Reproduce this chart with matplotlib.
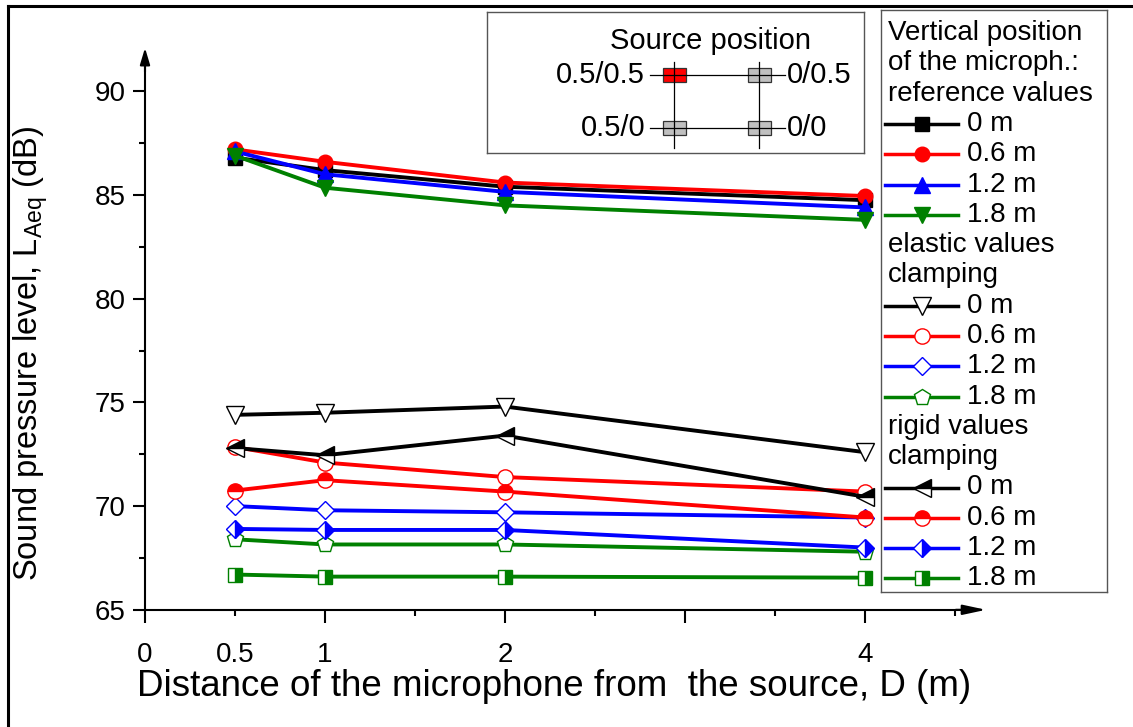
import matplotlib
matplotlib.use("Agg")
import matplotlib.pyplot as plt
from matplotlib.lines import Line2D
from matplotlib.patches import Rectangle

plt.rcParams['font.family'] = ['Liberation Sans', 'DejaVu Sans']

# distances of the microphone (m)
dist = [0.5, 1, 2, 4]

# reference values
ref_0 = [86.8, 86.2, 85.4, 84.75]
ref_06 = [87.2, 86.6, 85.6, 84.95]
ref_12 = [87.1, 86.0, 85.15, 84.4]
ref_18 = [86.9, 85.35, 84.5, 83.8]
# elastic clamping
ela_0 = [74.4, 74.5, 74.8, 72.6]
ela_06 = [72.85, 72.1, 71.4, 70.7]
ela_12 = [70.0, 69.8, 69.7, 69.45]
ela_18 = [68.4, 68.15, 68.15, 67.8]
# rigid clamping
rig_0 = [72.8, 72.45, 73.4, 70.45]
rig_06 = [70.75, 71.25, 70.7, 69.45]
rig_12 = [68.9, 68.85, 68.85, 68.0]
rig_18 = [66.7, 66.6, 66.6, 66.55]

heights = ["0 m", "0.6 m", "1.2 m", "1.8 m"]
colors = ["black", "red", "blue", "green"]

W, H = 1133, 727
fig = plt.figure(figsize=(W / 100, H / 100), dpi=100)

# styles for each group
ref_style = [dict(marker='s', ms=9.5), dict(marker='o', ms=10.5),
             dict(marker='^', ms=11.5), dict(marker='v', ms=11.5)]
ela_style = [dict(marker='v', ms=13, mfc='white'), dict(marker='o', ms=11, mfc='white'),
             dict(marker='D', ms=9, mfc='white'), dict(marker='p', ms=12, mfc='white')]
rig_style = [dict(marker='<', ms=13, fillstyle='top', mfcalt='white'),
             dict(marker='o', ms=11, fillstyle='top', mfcalt='white'),
             dict(marker='D', ms=9, fillstyle='right', mfcalt='white'),
             dict(marker='s', ms=10, fillstyle='right', mfcalt='white')]

ax = fig.add_axes([145 / W, 1 - 609.8 / H, (964 - 145) / W, (609.8 - 66.4) / H])

groups = [
    ("ref", [ref_0, ref_06, ref_12, ref_18], ref_style),
    ("ela", [ela_0, ela_06, ela_12, ela_18], ela_style),
    ("rig", [rig_0, rig_06, rig_12, rig_18], rig_style),
]
for name, series, styles in groups:
    for vals, c, st in zip(series, colors, styles):
        ax.plot(dist, vals, color=c, lw=2.8, mec=c, mew=1, clip_on=False, **st)

ax.set_xlim(0, 4.55)
ax.set_ylim(65, 91.2)
for s in ['top', 'right']:
    ax.spines[s].set_visible(False)
for s in ['left', 'bottom']:
    ax.spines[s].set_linewidth(1.5)

ax.set_xticks([0, 1, 2, 3, 4], labels=['0', '1', '2', '', '4'])
ax.set_xticks([0.5, 1.5, 2.5, 3.5, 4.5], labels=['0.5', '', '', '', ''], minor=True)
ax.set_yticks([65, 70, 75, 80, 85, 90])
ax.set_yticks([67.5, 72.5, 77.5, 82.5, 87.5], minor=True)
ax.tick_params(which='major', length=9, width=1.5, labelsize=20)
ax.tick_params(which='minor', length=4.5, width=1.5)
ax.tick_params(axis='x', which='major', pad=14)
ax.tick_params(axis='x', which='minor', pad=18.5, labelsize=20)
ax.tick_params(axis='y', which='major', pad=5)

# axis arrows
ax.annotate('', xy=(1.027, 0), xytext=(0.99, 0), xycoords='axes fraction',
            arrowprops=dict(arrowstyle='-|>,head_length=1.4,head_width=0.3', color='k',
                            lw=1.5, shrinkA=0, shrinkB=0))
ax.annotate('', xy=(0, 1.034), xytext=(0, 0.99), xycoords='axes fraction',
            arrowprops=dict(arrowstyle='-|>,head_length=1.0,head_width=0.3', color='k',
                            lw=1.5, shrinkA=0, shrinkB=0))

ax.set_xlabel('Distance of the microphone from  the source, D (m)', fontsize=26.5, labelpad=1)
fig.text(31 / W, 1 - 353 / H, 'Sound pressure level, L$_{\\mathregular{Aeq}}$ (dB)',
         rotation=90, ha='center', va='center', fontsize=23.5)

# figure frame (left and top edges)
fig.add_artist(Line2D([8 / W, 8 / W], [0, 1 - 6 / H], color='k', lw=2.2))
fig.add_artist(Line2D([8 / W, 1], [1 - 6 / H, 1 - 6 / H], color='k', lw=2.2))


def px_axes(x0, y0, x1, y1):
    a = fig.add_axes([x0 / W, 1 - y1 / H, (x1 - x0) / W, (y1 - y0) / H])
    a.set_xlim(x0, x1)
    a.set_ylim(y1, y0)
    a.set_xticks([])
    a.set_yticks([])
    for sp in a.spines.values():
        sp.set_color('#555555')
        sp.set_linewidth(1)
    return a


# source position box
sb = px_axes(487, 12, 864, 153)
sb.text(710, 41, 'Source position', ha='center', va='center', fontsize=21)
for xv in [674, 759]:
    sb.plot([xv, xv], [62, 148], color='k', lw=0.9)
for yv in [75, 128]:
    sb.plot([650, 785], [yv, yv], color='k', lw=0.9)
src_pos = [(674, 75, 'red'), (759, 75, '#c0c0c0'), (674, 128, '#c0c0c0'), (759, 128, '#c0c0c0')]
for xc, yc, fc in src_pos:
    sb.add_patch(Rectangle((xc - 11.5, yc - 7), 23, 14, facecolor=fc, edgecolor='#333333', lw=0.9))
sb.text(645, 75, '0.5/0.5', ha='right', va='center', fontsize=21)
sb.text(787, 75, '0/0.5', ha='left', va='center', fontsize=21)
sb.text(645, 128, '0.5/0', ha='right', va='center', fontsize=21)
sb.text(787, 128, '0/0', ha='left', va='center', fontsize=21)

# legend box
lg = px_axes(881, 10, 1107, 592)
rows = ["Vertical position", "of the microph.:", "reference values"]
rows += [("ref", i) for i in range(4)]
rows += ["elastic values", "clamping"]
rows += [("ela", i) for i in range(4)]
rows += ["rigid values", "clamping"]
rows += [("rig", i) for i in range(4)]
style_map = {"ref": ref_style, "ela": ela_style, "rig": rig_style}
for k, r in enumerate(rows):
    y = 33 + k * 30.3
    if isinstance(r, str):
        lg.text(888, y, r, ha='left', va='center', fontsize=20)
    else:
        g, i = r
        lg.plot([885, 958], [y, y], color=colors[i], lw=2.5)
        lg.plot([922], [y], color=colors[i], mec=colors[i], mew=1, **style_map[g][i])
        lg.text(967, y, heights[i], ha='left', va='center', fontsize=20)

fig.savefig('out.png', dpi=100)
